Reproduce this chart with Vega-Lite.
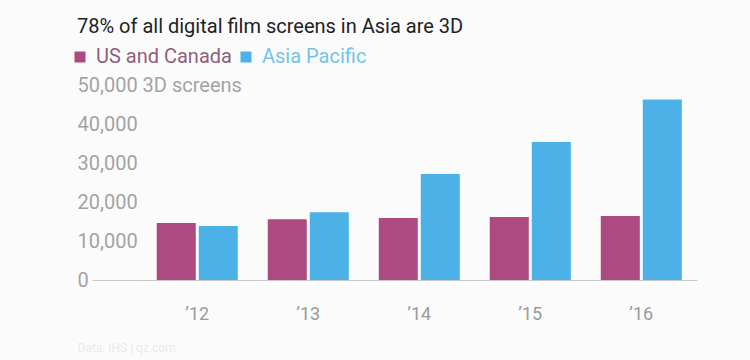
{
  "$schema": "https://vega.github.io/schema/vega-lite/v6.json",
  "width": 605,
  "height": 195,
  "autosize": "none",
  "padding": {"left": 92, "top": 85, "right": 53, "bottom": 80},
  "background": "#fcfbfc",
  "config": {
    "font": "Roboto",
    "view": {"stroke": null}
  },
  "title": {
    "text": "78% of all digital film screens in Asia are 3D",
    "anchor": "start",
    "frame": "group",
    "dx": -15,
    "fontSize": 20,
    "fontWeight": "normal",
    "color": "#222222",
    "offset": 10
  },
  "data": {
    "values": [
      {"year": "2012", "region": "US and Canada", "screens": 14600},
      {"year": "2012", "region": "Asia Pacific", "screens": 13850},
      {"year": "2013", "region": "US and Canada", "screens": 15600},
      {"year": "2013", "region": "Asia Pacific", "screens": 17400},
      {"year": "2014", "region": "US and Canada", "screens": 15900},
      {"year": "2014", "region": "Asia Pacific", "screens": 27200},
      {"year": "2015", "region": "US and Canada", "screens": 16150},
      {"year": "2015", "region": "Asia Pacific", "screens": 35400},
      {"year": "2016", "region": "US and Canada", "screens": 16400},
      {"year": "2016", "region": "Asia Pacific", "screens": 46300}
    ]
  },
  "mark": {"type": "bar"},
  "encoding": {
    "x": {
      "field": "year",
      "type": "nominal",
      "scale": {"paddingInner": 0.27, "paddingOuter": 0.36, "align": 0.81},
      "axis": {
        "title": "Data: IHS | qz.com",
        "titleColor": "#ece8ec",
        "titleFontSize": 12,
        "titleFontWeight": "normal",
        "titleAnchor": "start",
        "titleBaseline": "top",
        "titleX": -15,
        "titleY": 62,
        "labelAngle": 0,
        "labelExpr": "'\u2019' + substring(datum.label, 2)",
        "labelFontSize": 18,
        "labelColor": "#9a9a9a",
        "labelPadding": 25,
        "ticks": false,
        "tickSize": 0,
        "domainColor": "#c8c8c8",
        "domainWidth": 1
      }
    },
    "xOffset": {
      "field": "region",
      "type": "nominal",
      "sort": ["US and Canada", "Asia Pacific"],
      "scale": {"paddingInner": 0.071}
    },
    "y": {
      "field": "screens",
      "type": "quantitative",
      "scale": {"domain": [0, 50000], "nice": false},
      "axis": {
        "title": null,
        "values": [0, 10000, 20000, 30000, 40000, 50000],
        "labelExpr": "datum.value == 50000 ? datum.label + ' 3D screens' : datum.label",
        "labelAlign": "left",
        "labelBaseline": "middle",
        "labelPadding": 15,
        "labelFontSize": 20,
        "labelColor": "#a3a3a3",
        "ticks": false,
        "tickSize": 0,
        "domain": false,
        "grid": false
      }
    },
    "color": {
      "field": "region",
      "type": "nominal",
      "sort": ["US and Canada", "Asia Pacific"],
      "scale": {"domain": ["US and Canada", "Asia Pacific"], "range": ["#ac4a81", "#4bb1e6"]},
      "legend": {
        "title": null,
        "orient": "none",
        "direction": "horizontal",
        "legendX": -22,
        "legendY": -38,
        "symbolType": "square",
        "symbolSize": 121,
        "symbolStrokeWidth": 0,
        "labelFontSize": 20,
        "labelOffset": 6,
        "columnPadding": 4,
        "encode": {
          "labels": {
            "update": {
              "fill": {"signal": "datum.value == 'US and Canada' ? '#8f5f79' : '#74c3e8'"}
            }
          }
        }
      }
    }
  }
}
